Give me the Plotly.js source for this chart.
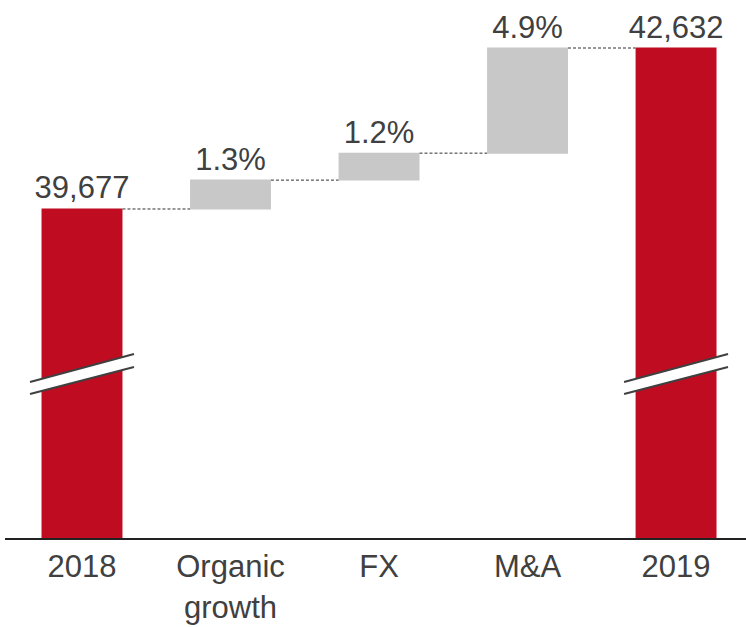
<!DOCTYPE html>
<html>
<head>
<meta charset="utf-8">
<script src="https://cdn.plot.ly/plotly-3.0.1.min.js"></script>
<style>html,body{margin:0;padding:0;background:#fff;}#chart{width:746px;height:627px;}</style>
</head>
<body>
<div id="chart"></div>
<script>
// Data
const categories = ['2018', 'Organic<br>growth', 'FX', 'M&A', '2019'];
const measures = ['absolute', 'relative', 'relative', 'relative', 'absolute'];
const values = [39677, 530, 495, 1930, 42632];
const labels = ['39,677', '1.3%', '1.2%', '4.9%', '42,632'];
const breakBars = [0, 4];          // bars carrying the axis-break mark
const breakBand = [36282, 36777];  // lower line (left, right) in value units
const breakTop = [36502, 37016];   // upper line (left, right)

const RED = '#C00C20', GREY = '#C8C8C8', TXT = '#404040';
const FONT = 'Arial, "Liberation Sans", sans-serif';

const trace = {
  type: 'waterfall',
  x: categories,
  y: values,
  measure: measures,
  text: labels,
  textposition: 'outside',
  constraintext: 'none',
  textfont: {family: FONT, size: 31, color: TXT},
  cliponaxis: false,
  width: 0.545,
  increasing: {marker: {color: GREY}},
  decreasing: {marker: {color: GREY}},
  totals: {marker: {color: RED}},
  connector: {mode: 'between', line: {color: '#303030', width: 1, dash: '3px,2px'}},
  hoverinfo: 'skip'
};

const shapes = [];
const hw = 0.35;
breakBars.forEach(i => {
  shapes.push({
    type: 'path', xref: 'x', yref: 'y', layer: 'above',
    path: `M ${i - hw},${breakBand[0]} L ${i + hw},${breakBand[1]} L ${i + hw},${breakTop[1]} L ${i - hw},${breakTop[0]} Z`,
    fillcolor: '#FFFFFF', line: {width: 0}
  });
  shapes.push({type: 'line', xref: 'x', yref: 'y', layer: 'above',
    x0: i - hw, x1: i + hw, y0: breakTop[0], y1: breakTop[1], line: {color: TXT, width: 2}});
  shapes.push({type: 'line', xref: 'x', yref: 'y', layer: 'above',
    x0: i - hw, x1: i + hw, y0: breakBand[0], y1: breakBand[1], line: {color: TXT, width: 2}});
});

const layout = {
  width: 746, height: 627,
  margin: {l: 5, r: 0, t: 0, b: 89},
  paper_bgcolor: '#FFFFFF', plot_bgcolor: '#FFFFFF',
  showlegend: false,
  font: {family: FONT, color: TXT},
  xaxis: {
    type: 'category',
    range: [-0.5185, 4.471],
    showline: true, linecolor: '#222222', linewidth: 2,
    showgrid: false, zeroline: false, ticks: '',
    tickfont: {family: FONT, size: 31, color: TXT},
    fixedrange: true
  },
  yaxis: {
    range: [33638, 43513],
    visible: false, showgrid: false, zeroline: false, fixedrange: true
  },
  shapes: shapes
};

Plotly.newPlot('chart', [trace], layout, {staticPlot: true, displayModeBar: false});
</script>
</body>
</html>
